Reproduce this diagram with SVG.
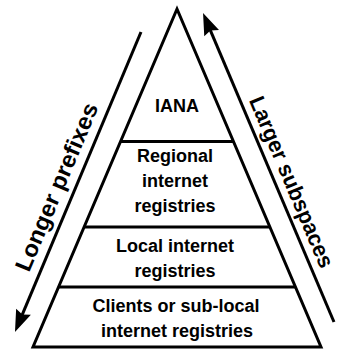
<svg xmlns="http://www.w3.org/2000/svg" width="345" height="349" viewBox="0 0 345 349">
  <style>
    .edge { fill: none; stroke: #000; stroke-width: 3; }
    .lbl { font-family: "Liberation Sans", Arial, sans-serif; font-weight: bold; font-size: 18px; fill: #000; text-anchor: middle; }
    .side { font-family: "Liberation Sans", Arial, sans-serif; font-weight: bold; font-size: 22px; fill: #000; text-anchor: middle; }
  </style>
  <defs>
    <marker id="ah" markerUnits="userSpaceOnUse" markerWidth="30" markerHeight="20" refX="7" refY="0" viewBox="0 -10 30 20" orient="auto" overflow="visible">
      <path d="M0,-8 L22,0 L0,8 L3,0 z" fill="#000"/>
    </marker>
  </defs>
  <rect width="345" height="349" fill="#fff"/>
  <g id="pyramid">
    <polygon class="edge" points="177,9 33,347 321,347" stroke-linejoin="miter"/>
  </g>
  <g id="iana">
    <text class="lbl" x="177" y="112">IANA</text>
  </g>
  <g id="rir">
    <line class="edge" x1="120" y1="141.5" x2="234" y2="141.5"/>
    <text class="lbl" x="175" y="162">Regional</text>
    <text class="lbl" x="175" y="187">internet</text>
    <text class="lbl" x="175" y="212">registries</text>
  </g>
  <g id="lir">
    <line class="edge" x1="84" y1="227" x2="270" y2="227"/>
    <text class="lbl" x="175" y="252">Local internet</text>
    <text class="lbl" x="175" y="277">registries</text>
  </g>
  <g id="clients">
    <line class="edge" x1="58.5" y1="287" x2="295.5" y2="287"/>
    <text class="lbl" x="176" y="311.5">Clients or sub-local</text>
    <text class="lbl" x="177" y="337">internet registries</text>
  </g>
  <g id="connectors">
    <line class="edge" x1="141" y1="32" x2="20.8" y2="318.2" marker-end="url(#ah)"/>
    <line class="edge" x1="334" y1="322" x2="208.9" y2="26.8" marker-end="url(#ah)"/>
    <text class="side" transform="translate(63.8,190) rotate(-67.2)" textLength="180" lengthAdjust="spacingAndGlyphs" style="font-size:23px">Longer prefixes</text>
    <text class="side" transform="translate(284.7,184.9) rotate(67.05)" textLength="184" lengthAdjust="spacingAndGlyphs">Larger subspaces</text>
  </g>
</svg>
